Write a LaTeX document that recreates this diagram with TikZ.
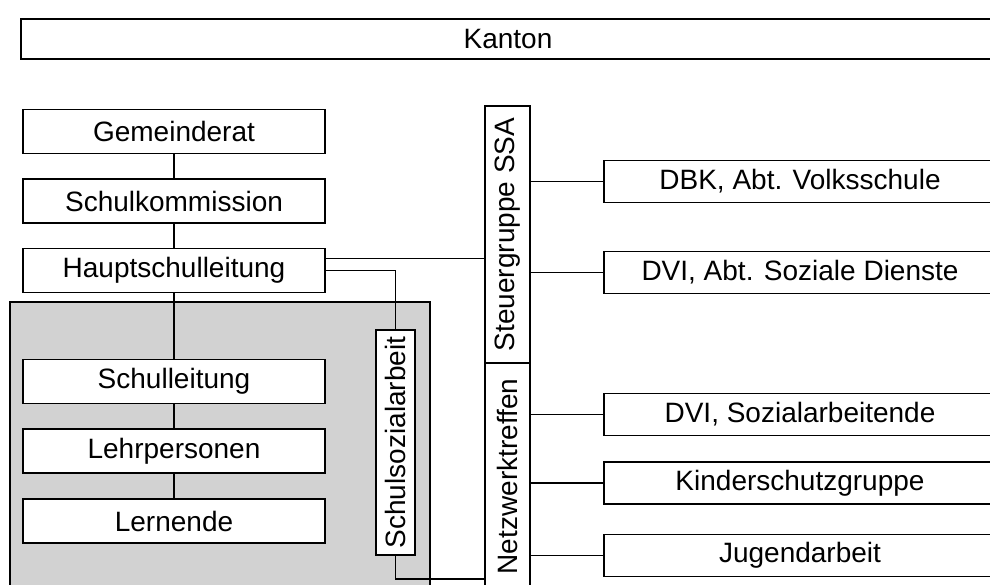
\documentclass[tikz,border=0pt]{standalone}
\usepackage{fontspec}
\setmainfont{Liberation Sans}
\usepackage{graphicx}
\definecolor{graufeld}{RGB}{210,210,210}

\begin{document}
\begin{tikzpicture}[
                x=1pt, y=-1pt,
                line width=1.6pt,
                every node/.style={draw, fill=white, inner sep=0pt,
                    font=\fontsize{28}{33}\selectfont},
                box/.style={minimum width=302, minimum height=44},
                wide/.style={minimum width=392, minimum height=42},
                upright/.style={minimum width=45},
            ]
            \clip (0,0) rectangle (990,585);
            % Schulfeld
            \fill[graufeld, draw=black] (10,302) rectangle (430,600);

            \node[minimum width=974, minimum height=40] (kanton) at (508,39) {Kanton};

            \node[box] (gemeinderat) at (174,131.5) {Gemeinderat};
            \node[box] (schulkommission) at (174,201) {Schulkommission};
            \node[box] (hauptschulleitung) at (174,270.5) {Hauptschulleitung};
            \node[box] (schulleitung) at (174,381.5) {Schulleitung};
            \node[box] (lehrpersonen) at (174,451) {Lehrpersonen};
            \node[box] (lernende) at (174,521) {Lernende};

            \node[minimum width=39, minimum height=225] (ssa) at (395.5,442.5)
                {\rotatebox{90}{Schulsozialarbeit}};

            \node[upright, minimum height=257] (steuergruppe) at (507.5,234.5)
                {\rotatebox{90}{Steuergruppe SSA}};
            \node[upright, minimum height=227] (netzwerk) at (507.5,476.5)
                {\rotatebox{90}{Netzwerktreffen}};

            \node[wide] (dbk) at (800,181.5) {DBK, Abt. Volksschule};
            \node[wide] (dvisd) at (800,272.5) {DVI, Abt. Soziale Dienste};
            \node[wide] (dvisa) at (800,414.5) {DVI, Sozialarbeitende};
            \node[wide] (kinderschutz) at (800,483) {Kinderschutzgruppe};
            \node[wide] (jugend) at (800,555.5) {Jugendarbeit};

            % Linien
            \draw (gemeinderat) -- (schulkommission) -- (hauptschulleitung)
                -- (schulleitung) -- (lehrpersonen) -- (lernende);
            \coordinate (hsl) at ([yshift=12pt]hauptschulleitung.east);
            \draw (hsl) -- (hsl -| steuergruppe.west);
            \draw (hauptschulleitung.east) -| (ssa.north);
            \draw (ssa.south) -- ++(0,23) coordinate (ssaknick)
                -- (ssaknick -| netzwerk.west);
            \foreach \ziel in {dbk, dvisd}
                \draw (steuergruppe.east |- \ziel.west) -- (\ziel.west);
            \foreach \ziel in {dvisa, kinderschutz, jugend}
                \draw (netzwerk.east |- \ziel.west) -- (\ziel.west);
            \end{tikzpicture}
\end{document}
